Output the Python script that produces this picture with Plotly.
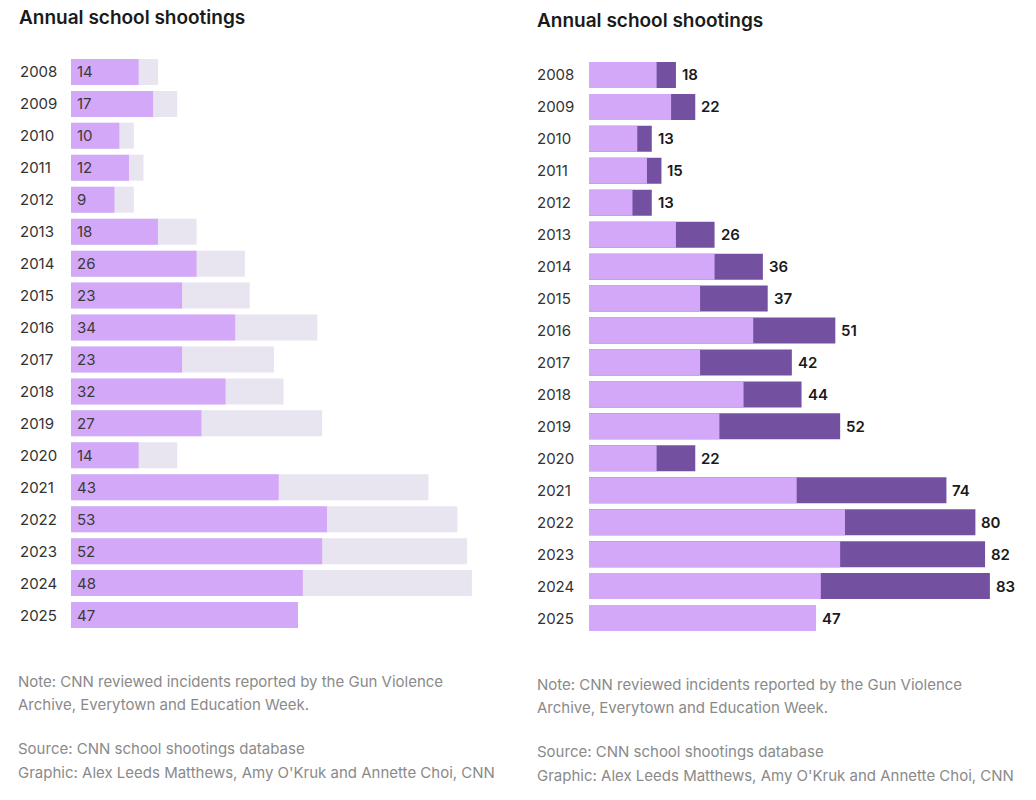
import plotly.graph_objects as go

years = ["2008", "2009", "2010", "2011", "2012", "2013", "2014", "2015", "2016",
         "2017", "2018", "2019", "2020", "2021", "2022", "2023", "2024", "2025"]
first_part = [14, 17, 10, 12, 9, 18, 26, 23, 34, 23, 32, 27, 14, 43, 53, 52, 48, 47]
totals = [18, 22, 13, 15, 13, 26, 36, 37, 51, 42, 44, 52, 22, 74, 80, 82, 83, 47]

title_text = "Annual school shootings"
note_lines = ["Note: CNN reviewed incidents reported by the Gun Violence",
              "Archive, Everytown and Education Week."]
credit_lines = ["Source: CNN school shootings database",
                "Graphic: Alex Leeds Matthews, Amy O'Kruk and Annette Choi, CNN"]

LIGHT = "#d4a8f8"
DARK = "#7450a0"
BG = "#e8e4f0"
FONT = "Inter, Roboto, sans-serif"
W, H = 1036, 800
PX = 4.83  # pixels per unit

def px_x(p):
    return p / W

def px_y(p):
    return 1 - p / H

fig = go.Figure()

# Left panel
fig.add_trace(go.Bar(y=years, x=totals, orientation="h", marker=dict(color=BG, line=dict(width=0)),
                     xaxis="x", yaxis="y", hoverinfo="skip"))
fig.add_trace(go.Bar(y=years, x=first_part, orientation="h", marker=dict(color=LIGHT, line=dict(width=0)),
                     xaxis="x", yaxis="y", hoverinfo="skip"))
# Right panel
fig.add_trace(go.Bar(y=years, x=totals, orientation="h", marker=dict(color=DARK, line=dict(width=0)),
                     xaxis="x2", yaxis="y2", hoverinfo="skip"))
fig.add_trace(go.Bar(y=years, x=first_part, orientation="h", marker=dict(color=LIGHT, line=dict(width=0)),
                     xaxis="x2", yaxis="y2", hoverinfo="skip"))

left_x0, left_x1 = 71, 520
right_x0, right_x1 = 589, 1030

axis_common = dict(showgrid=False, zeroline=False, showticklabels=False, showline=False, ticks="", fixedrange=True)
n = len(years)
yaxis_common = dict(type="category", categoryorder="array", categoryarray=years,
                    range=[n - 0.5, -0.5], autorange=False, **axis_common)

annotations = []
for i, yr in enumerate(years):
    annotations.append(dict(x=px_x(18), xref="paper", y=i, yref="y", text=yr, showarrow=False,
                            xanchor="left", yanchor="middle", font=dict(size=15, color="#333333", family=FONT)))
    annotations.append(dict(x=0, xref="x", y=i, yref="y", text=str(first_part[i]), showarrow=False,
                            xanchor="left", yanchor="middle", xshift=4,
                            font=dict(size=15, color="#3a3a3a", family=FONT)))
    annotations.append(dict(x=px_x(535), xref="paper", y=i, yref="y2", text=yr, showarrow=False,
                            xanchor="left", yanchor="middle", font=dict(size=15, color="#333333", family=FONT)))
    annotations.append(dict(x=totals[i], xref="x2", y=i, yref="y2", text=str(totals[i]), showarrow=False,
                            xanchor="left", yanchor="middle", xshift=4,
                            font=dict(size=15, color="#1a1a1a", family=FONT, weight=600)))

annotations.append(dict(x=px_x(17), y=px_y(18), xref="paper", yref="paper", text=title_text,
                        showarrow=False, xanchor="left", yanchor="middle",
                        font=dict(size=19, color="#1a1a1a", family=FONT, weight=600)))
annotations.append(dict(x=px_x(535), y=px_y(21), xref="paper", yref="paper", text=title_text,
                        showarrow=False, xanchor="left", yanchor="middle",
                        font=dict(size=19, color="#1a1a1a", family=FONT, weight=600)))

for x0, ys in [(16, [681, 704, 748, 772]), (535, [684, 707, 751, 775])]:
    for txt, yy in zip(note_lines + credit_lines, ys):
        annotations.append(dict(x=px_x(x0), y=px_y(yy), xref="paper", yref="paper", text=txt,
                                showarrow=False, xanchor="left", yanchor="middle",
                                font=dict(size=15, color="#8a8a8a", family=FONT)))

fig.update_layout(
    width=W, height=H, margin=dict(l=0, r=0, t=0, b=0),
    paper_bgcolor="white", plot_bgcolor="white",
    barmode="overlay", bargap=0.186, showlegend=False,
    font=dict(family=FONT),
    xaxis=dict(domain=[px_x(left_x0), px_x(left_x1)], range=[0, (left_x1 - left_x0) / PX], anchor="y", **axis_common),
    yaxis=dict(domain=[px_y(631), px_y(56)], anchor="x", **yaxis_common),
    xaxis2=dict(domain=[px_x(right_x0), px_x(right_x1)], range=[0, (right_x1 - right_x0) / PX], anchor="y2", **axis_common),
    yaxis2=dict(domain=[px_y(634), px_y(59)], anchor="x2", **yaxis_common),
    annotations=annotations,
)

fig.write_html("out.html", config={"displayModeBar": False},
               post_script="document.body.style.margin='0';document.body.style.overflow='hidden';")
